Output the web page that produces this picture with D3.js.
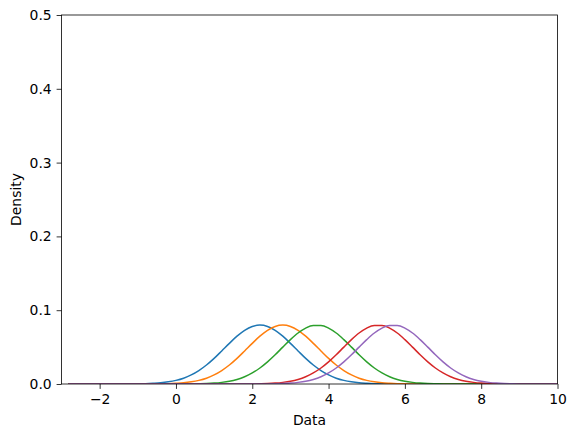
<!DOCTYPE html>
<html>
<head>
<meta charset="utf-8">
<script src="https://cdn.jsdelivr.net/npm/d3@7"></script>
<style>
  body { margin: 0; background: #fff; }
  svg { display: block; font-family: "DejaVu Sans", sans-serif; }
</style>
</head>
<body>
<svg id="chart" width="576" height="438"></svg>
<script>
// x grid the curves are sampled on
var xGrid = [-2.8,-2.6,-2.4,-2.2,-2.0,-1.8,-1.6,-1.4,-1.2,-1.0,-0.8,-0.6,-0.4,-0.2,0.0,
  0.2,0.4,0.6,0.8,1.0,1.2,1.4,1.6,1.8,2.0,2.2,2.4,2.6,2.8,3.0,3.2,3.4,3.6,3.8,4.0,
  4.2,4.4,4.6,4.8,5.0,5.2,5.4,5.6,5.8,6.0,6.2,6.4,6.6,6.8,7.0,7.2,7.4,7.6,7.8,8.0,
  8.2,8.4,8.6,8.8,9.0,9.2,9.4,9.6,9.8,10.0];

// density values, one array per curve
var blue = [0,0,0,0,0,0,0,0,
  0.0001,0.0002,0.0004,0.0009,0.0016,0.0029,0.0049,0.0079,0.0123,0.0182,0.0257,0.0347,0.0448,0.0551,0.0648,0.0727,0.0780,
  0.0798,
  0.0780,0.0727,0.0648,0.0551,0.0448,0.0347,0.0257,0.0182,0.0123,0.0079,0.0049,0.0029,0.0016,0.0009,0.0004,0.0002,0.0001,
  0,0,0,0,0,0,0,0,0,0,0,0,0,0,0,0,0,0,0,0,0,0];
var orange = [0,0,0,0,0,0,0,0,0,0,0,
  0.0001,0.0002,0.0004,0.0009,0.0016,0.0029,0.0049,0.0079,0.0123,0.0182,0.0257,0.0347,0.0448,0.0551,0.0648,0.0727,0.0780,
  0.0798,
  0.0780,0.0727,0.0648,0.0551,0.0448,0.0347,0.0257,0.0182,0.0123,0.0079,0.0049,0.0029,0.0016,0.0009,0.0004,0.0002,0.0001,
  0,0,0,0,0,0,0,0,0,0,0,0,0,0,0,0,0,0,0];
var green = [0,0,0,0,0,0,0,0,0,0,0,0,0,0,0,0,
  0.0001,0.0003,0.0006,0.0012,0.0022,0.0037,0.0062,0.0099,0.0150,0.0217,0.0300,0.0396,0.0500,0.0601,0.0691,0.0758,0.0793,
  0.0793,0.0758,0.0691,0.0601,0.0500,0.0396,0.0300,0.0217,0.0150,0.0099,0.0062,0.0037,0.0022,0.0012,0.0006,0.0003,0.0001,
  0,0,0,0,0,0,0,0,0,0,0,0,0,0,0];
var red = [0,0,0,0,0,0,0,0,0,0,0,0,0,0,0,0,0,0,0,0,0,0,0,0,
  0.0001,0.0003,0.0006,0.0012,0.0022,0.0037,0.0062,0.0099,0.0150,0.0217,0.0300,0.0396,0.0500,0.0601,0.0691,0.0758,0.0793,
  0.0793,0.0758,0.0691,0.0601,0.0500,0.0396,0.0300,0.0217,0.0150,0.0099,0.0062,0.0037,0.0022,0.0012,0.0006,0.0003,0.0001,
  0,0,0,0,0,0,0];
var purple = [0,0,0,0,0,0,0,0,0,0,0,0,0,0,0,0,0,0,0,0,0,0,0,0,0,0,
  0.0001,0.0003,0.0006,0.0012,0.0022,0.0037,0.0062,0.0099,0.0150,0.0217,0.0300,0.0396,0.0500,0.0601,0.0691,0.0758,0.0793,
  0.0793,0.0758,0.0691,0.0601,0.0500,0.0396,0.0300,0.0217,0.0150,0.0099,0.0062,0.0037,0.0022,0.0012,0.0006,0.0003,0.0001,
  0,0,0,0,0];

var seriesList = [blue, orange, green, red, purple];
var colors = ['#1f77b4','#ff7f0e','#2ca02c','#d62728','#9467bd'];
var xTicks = [-2,0,2,4,6,8,10];
var yTicks = [0.0,0.1,0.2,0.3,0.4,0.5];

var svg = d3.select('#chart');
var mLeft = 61.5, mRight = 557.5, mTop = 15, mBottom = 384;

var x = d3.scaleLinear().domain([-3,10]).range([mLeft,mRight]);
var y = d3.scaleLinear().domain([0,0.5]).range([mBottom,mTop]);

var plot = svg.append('g');
plot.append('clipPath').attr('id','clip')
  .append('rect').attr('x',mLeft).attr('y',mTop).attr('width',mRight-mLeft).attr('height',mBottom-mTop);

var line = d3.line()
  .x(function(d,i){return x(xGrid[i]);})
  .y(function(d){return y(d);})
  .curve(d3.curveMonotoneX);

plot.selectAll('.curve')
  .data(seriesList)
  .enter()
  .append('path')
  .attr('class','curve')
  .attr('clip-path','url(#clip)')
  .attr('d',line)
  .attr('fill','none')
  .attr('stroke',function(d,i){return colors[i];})
  .attr('stroke-width',1.5)
  .attr('stroke-linejoin','round')
  .attr('stroke-linecap','square');

var fmtX = function(d){return d<0 ? '\u2212'+Math.abs(d) : String(d);};

var xAxis = svg.append('g')
  .attr('transform','translate(0,'+mBottom+')')
  .call(d3.axisBottom(x).tickValues(xTicks).tickFormat(fmtX).tickSize(4.9).tickPadding(4.9));
var yAxis = svg.append('g')
  .attr('transform','translate('+mLeft+',0)')
  .call(d3.axisLeft(y).tickValues(yTicks).tickFormat(d3.format('.1f')).tickSize(4.9).tickPadding(4.9));

[xAxis,yAxis].forEach(function(a){
  a.select('.domain').remove();
  a.selectAll('.tick line').attr('stroke','#000').attr('stroke-width',0.8);
  a.selectAll('.tick text').attr('fill','#000').style('font-size','13.9px').style('font-family','DejaVu Sans');
});

// frame
svg.append('rect')
  .attr('x',mLeft).attr('y',mTop).attr('width',mRight-mLeft).attr('height',mBottom-mTop)
  .attr('fill','none').attr('stroke','#000').attr('stroke-width',0.8);

svg.append('text')
  .attr('x',(mLeft+mRight)/2).attr('y',425)
  .attr('text-anchor','middle')
  .style('font-size','13.9px')
  .text('Data');

svg.append('text')
  .attr('transform','translate(21,'+((mTop+mBottom)/2)+') rotate(-90)')
  .attr('text-anchor','middle')
  .style('font-size','13.9px')
  .text('Density');
</script>
</body>
</html>
